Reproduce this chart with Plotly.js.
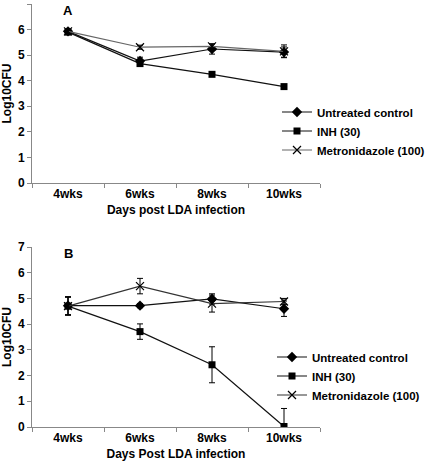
<!DOCTYPE html>
<html><head><meta charset="utf-8">
<script src="https://cdn.plot.ly/plotly-3.0.1.min.js"></script>
<style>html,body{margin:0;padding:0;background:#fff}#chart{width:425px;height:464px}</style>
</head><body><div id="chart"></div>
<script>
const weeks = ["4wks","6wks","8wks","10wks"];
const seriesNames = ["Untreated control","INH (30)","Metronidazole (100)"];
// Panel A
const aUntreated = [5.93, 4.77, 5.24, 5.12];
const aUntreatedErr = [0.08, 0.15, 0.2, 0.2];
const aINH = [5.9, 4.67, 4.25, 3.77];
const aINHErr = [0.06, 0.1, 0.05, 0.08];
const aMetro = [5.93, 5.31, 5.34, 5.15];
const aMetroErr = [0.06, 0.08, 0.1, 0.25];
// Panel B
const bUntreated = [4.72, 4.72, 4.98, 4.6];
const bUntreatedErr = [0.35, 0.08, 0.2, 0.3];
const bINH = [4.7, 3.71, 2.42, 0.02];
const bINHErr = [0.35, 0.3, 0.7, 0.7];
const bMetro = [4.7, 5.48, 4.8, 4.88];
const bMetroErr = [0.35, 0.3, 0.33, 0.12];

const F = {family:"Liberation Sans, Arial, sans-serif", size:12, color:"#000"};
const symbols = ["diamond","square","x-thin-open"];
const sizes = [8, 7, 8];

function mk(name, y, err, i, xa, ya, leg, lineColor){
  return {x: weeks, y: y, name: name, type:"scatter", mode:"lines+markers",
    xaxis: xa, yaxis: ya, legend: leg,
    line:{color: lineColor, width:1.2},
    marker:{symbol: symbols[i], size: sizes[i], color:"#000", line:{color:"#000", width: i===2?1.2:0}},
    error_y:{type:"data", array: err, visible:true, color:"#000", thickness:1, width:3}};
}
const data = [
  mk(seriesNames[0], aUntreated, aUntreatedErr, 0, "x","y","legend","#111"),
  mk(seriesNames[1], aINH, aINHErr, 1, "x","y","legend","#111"),
  mk(seriesNames[2], aMetro, aMetroErr, 2, "x","y","legend","#666"),
  mk(seriesNames[0], bUntreated, bUntreatedErr, 0, "x2","y2","legend2","#111"),
  mk(seriesNames[1], bINH, bINHErr, 1, "x2","y2","legend2","#111"),
  mk(seriesNames[2], bMetro, bMetroErr, 2, "x2","y2","legend2","#333"),
];
const xbase = {type:"category", range:[-0.5,3.5], showline:true, linecolor:"#888", linewidth:1,
  ticks:"outside", tickson:"boundaries", ticklen:4, tickcolor:"#888", showgrid:false, zeroline:false,
  tickfont:{...F, weight:"bold"}, fixedrange:true, automargin:false};
const ybase = {range:[0,7], dtick:1, showline:true, linecolor:"#888", linewidth:1,
  ticks:"outside", ticklen:4, tickcolor:"#888", showgrid:false, zeroline:false,
  tickfont:{...F, weight:"bold"}, fixedrange:true, automargin:false,
  title:{text:"Log10CFU", font:{...F, weight:"bold"}, standoff:5}};
const legBase = {xref:"container", yref:"container", xanchor:"left", yanchor:"middle",
  font:{...F, size:11.5, weight:"bold"}, tracegroupgap:0, bgcolor:"rgba(0,0,0,0)", itemwidth:30};
const layout = {
  width:425, height:464, paper_bgcolor:"#fff", plot_bgcolor:"#fff",
  margin:{l:32, r:105, t:4, b:37, autoexpand:false},
  font: F,
  xaxis:{...xbase, domain:[0,1], anchor:"y", title:{text:"Days post LDA infection", font:{...F, weight:"bold"}, standoff:5}},
  yaxis:{...ybase, domain:[0.5768,1], anchor:"x"},
  xaxis2:{...xbase, domain:[0,1], anchor:"y2", title:{text:"Days Post LDA infection", font:{...F, weight:"bold"}, standoff:5}},
  yaxis2:{...ybase, domain:[0,0.4255], anchor:"x2"},
  legend:{...legBase, x:277/425, y:1-131/464},
  legend2:{...legBase, x:272/425, y:1-376/464},
  showlegend:true,
  annotations:[
    {text:"<b>A</b>", xref:"x", yref:"y", x:0, y:7, yanchor:"top", yshift:3, showarrow:false, font:{...F, size:13}},
    {text:"<b>B</b>", xref:"x2", yref:"y2", x:0, y:7, yanchor:"top", yshift:3, showarrow:false, font:{...F, size:13}}
  ]
};
Plotly.newPlot("chart", data, layout, {staticPlot:true, displayModeBar:false});
</script></body></html>
